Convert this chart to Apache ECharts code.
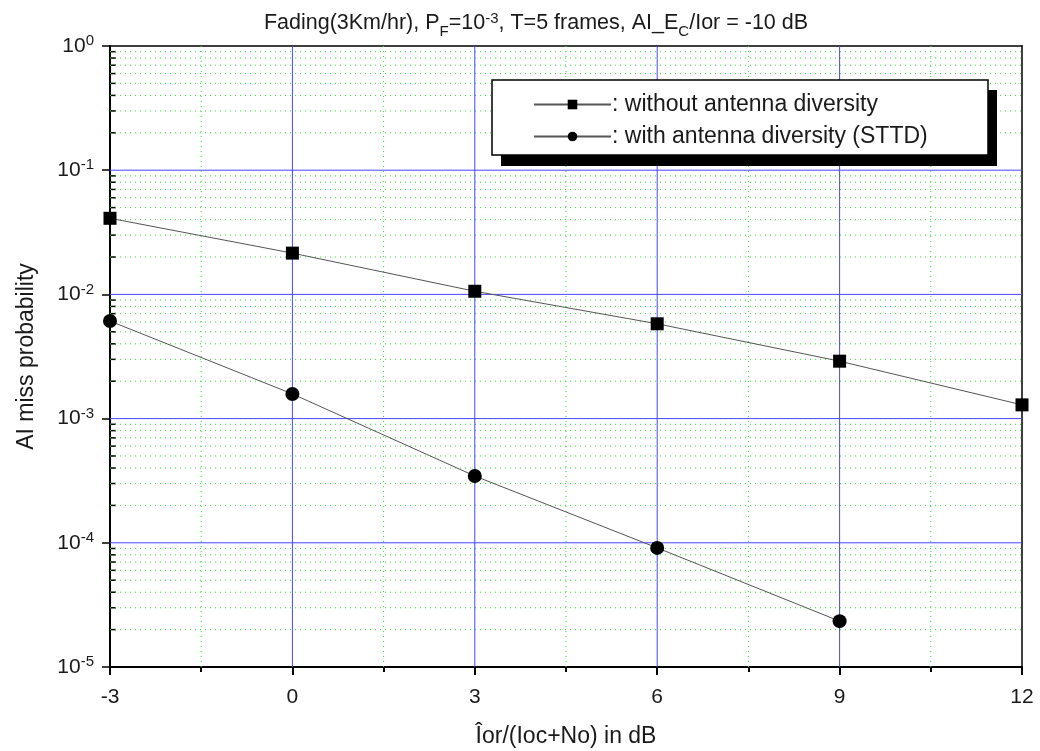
<!DOCTYPE html>
<html>
<head>
<meta charset="utf-8">
<script src="https://cdn.jsdelivr.net/npm/echarts@6/dist/echarts.min.js"></script>
<style>
html, body { margin: 0; padding: 0; background: #fff; }
#chart { width: 1040px; height: 751px; }
</style>
</head>
<body>
<div id="chart"></div>
<script>
var xValues = [-3, 0, 3, 6, 9, 12];
var withoutDiversity = [0.041, 0.0215, 0.0106, 0.0058, 0.0029, 0.00129];
var withDiversity = [0.0061, 0.00158, 0.000345, 0.000091, 0.0000234];
var seriesNames = [': without antenna diversity', ': with antenna diversity (STTD)'];
var xMinor = [-1.5, 1.5, 4.5, 7.5, 10.5];
var decades = [0.0001, 0.001, 0.01, 0.1];

// minor log grid positions 2..9 of each decade
var minorY = [];
for (var d = -5; d < 0; d++) {
	for (var k = 2; k <= 9; k++) {
		minorY.push(k * Math.pow(10, d));
	}
}

function pairs(xs, ys) {
	var out = [];
	for (var i = 0; i < ys.length; i++) out.push([xs[i], ys[i]]);
	return out;
}

// grid line items: [x, y, kind]  kind 0 = horizontal minor, 1 = horizontal major, 2 = vertical minor, 3 = vertical major
var gridItems = [];
minorY.forEach(function(v) { gridItems.push([-3, v, 0]); });
decades.forEach(function(v) { gridItems.push([-3, v, 1]); });
xMinor.forEach(function(v) { gridItems.push([v, 0.00001, 2]); });
xValues.slice(1, 5).forEach(function(v) { gridItems.push([v, 0.00001, 3]); });

var font = 'Liberation Sans, Arial, sans-serif';
var ink = '#1a1a1a';
var blue = '#4646ff';
var green = '#33dd33';
var myChart = echarts.init(document.getElementById('chart'));

var option = {
	backgroundColor: '#fff',
	animation: false,
	title: {
		text: 'Fading(3Km/hr), P{sub|F}=10{sup|-3}, T=5 frames, AI_E{sub|C}/Ior = -10 dB',
		left: 531,
		textAlign: 'center',
		top: 3,
		textStyle: {
			fontFamily: font,
			fontSize: 21.5,
			fontWeight: 'normal',
			color: ink,
			rich: {
				sub: { fontSize: 15, fontFamily: font, color: ink, padding: [16, 0, 0, 0] },
				sup: { fontSize: 15, fontFamily: font, color: ink, padding: [0, 0, 10, 0] }
			}
		}
	},
	graphic: [{
		type: 'rect',
		z: 5,
		shape: { x: 501, y: 90, width: 496, height: 76 },
		style: { fill: '#000' }
	}, {
		type: 'rect',
		z: 5,
		shape: { x: 492, y: 80, width: 496, height: 75 },
		style: { fill: '#fff', stroke: '#000', lineWidth: 1.5 }
	}],
	legend: {
		orient: 'vertical',
		left: 533,
		top: 93,
		z: 6,
		padding: 0,
		itemGap: 9,
		itemWidth: 77,
		itemHeight: 12,
		data: seriesNames,
		textStyle: { fontFamily: font, fontSize: 23, color: ink, padding: [0, 0, 0, -4] }
	},
	grid: {
		left: 110,
		right: 18,
		top: 46,
		bottom: 84,
		outerBoundsMode: 'none'
	},
	xAxis: [{
		type: 'value',
		min: -3,
		max: 12,
		interval: 3,
		name: 'Îor/(Ioc+No) in dB',
		nameLocation: 'middle',
		nameGap: 58,
		nameTextStyle: { fontFamily: font, fontSize: 23, color: ink },
		axisLine: { onZero: false, lineStyle: { color: '#000', width: 2 } },
		axisTick: { length: 8, lineStyle: { color: '#000', width: 2 } },
		minorTick: { show: true, splitNumber: 2, length: 5, lineStyle: { color: '#000', width: 2 } },
		axisLabel: { fontFamily: font, fontSize: 21, color: ink, margin: 20 },
		splitLine: { show: false }
	}, {
		type: 'value',
		position: 'top',
		min: -3,
		max: 12,
		interval: 3,
		axisLine: { onZero: false, lineStyle: { color: '#000', width: 1.5 } },
		axisTick: { show: false },
		axisLabel: { show: false },
		splitLine: { show: false }
	}],
	yAxis: [{
		type: 'log',
		logBase: 10,
		min: 0.00001,
		max: 1,
		name: 'AI miss probability',
		nameLocation: 'middle',
		nameGap: 72,
		nameTextStyle: { fontFamily: font, fontSize: 23, color: ink },
		axisLine: { show: true, onZero: false, lineStyle: { color: '#000', width: 2 } },
		axisTick: { length: 8, lineStyle: { color: '#000', width: 1.5 } },
		axisLabel: {
			fontFamily: font,
			fontSize: 21,
			color: ink,
			margin: 16,
			formatter: function(v) {
				var e = Math.round(Math.log(v) / Math.LN10);
				return '10{sup|' + e + '}';
			},
			rich: {
				sup: { fontSize: 15, fontFamily: font, color: ink, padding: [0, 0, 10, 0] }
			}
		},
		splitLine: { show: false }
	}, {
		type: 'log',
		logBase: 10,
		min: 0.00001,
		max: 1,
		position: 'right',
		axisLine: { show: true, onZero: false, lineStyle: { color: '#000', width: 1.5 } },
		axisTick: { show: false },
		axisLabel: { show: false },
		splitLine: { show: false }
	}],
	series: [{
		type: 'custom',
		silent: true,
		z: 1,
		data: gridItems,
		renderItem: function(params, api) {
			var kind = api.value(2);
			var x = api.value(0), y = api.value(1);
			var p, q, children = [];
			if (kind < 2) {
				p = api.coord([-3, y]);
				q = api.coord([12, y]);
			} else {
				p = api.coord([x, 0.00001]);
				q = api.coord([x, 1]);
			}
			var major = kind === 1 || kind === 3;
			children.push({
				type: 'line',
				z2: major ? 2 : 1,
				shape: { x1: p[0], y1: p[1], x2: q[0], y2: q[1] },
				style: major ? { stroke: blue, lineWidth: 1 } : { stroke: green, lineWidth: 1, lineDash: [1, 4] }
			});
			if (kind === 0) {
				children.push({
					type: 'line',
					shape: { x1: p[0], y1: p[1], x2: p[0] + 6, y2: p[1] },
					style: { stroke: '#000', lineWidth: 1.5 }
				});
			}
			return { type: 'group', children: children };
		}
	}, {
		name: seriesNames[0],
		type: 'line',
		z: 3,
		data: pairs(xValues, withoutDiversity),
		symbol: 'rect',
		symbolSize: 13,
		itemStyle: { color: '#000' },
		lineStyle: { color: '#555', width: 1 }
	}, {
		name: seriesNames[1],
		type: 'line',
		z: 3,
		data: pairs(xValues, withDiversity),
		symbol: 'circle',
		symbolSize: 14,
		itemStyle: { color: '#000' },
		lineStyle: { color: '#555', width: 1 }
	}]
};

myChart.setOption(option);
</script>
</body>
</html>
